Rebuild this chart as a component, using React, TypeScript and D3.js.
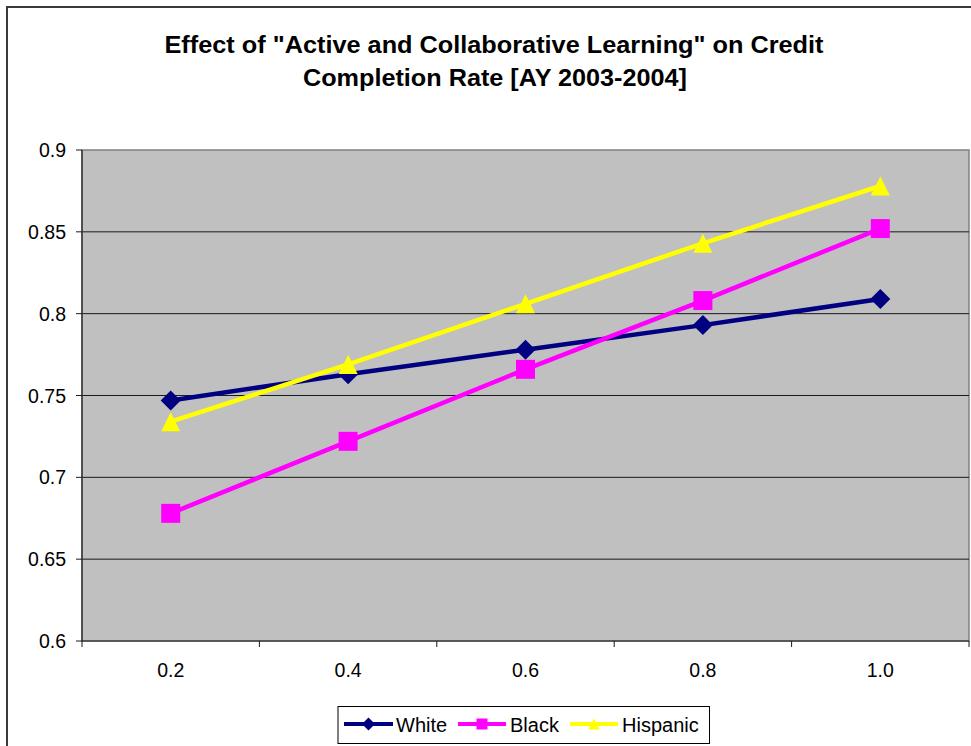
import React from "react";
import * as d3 from "d3";

const categories = ["0.2", "0.4", "0.6", "0.8", "1.0"];
const whiteValues = [0.747, 0.763, 0.778, 0.793, 0.809];
const blackValues = [0.678, 0.722, 0.766, 0.808, 0.852];
const hispanicValues = [0.734, 0.769, 0.806, 0.843, 0.878];
const yTicks = [0.6, 0.65, 0.7, 0.75, 0.8, 0.85, 0.9];
const yTickLabels = ["0.6", "0.65", "0.7", "0.75", "0.8", "0.85", "0.9"];
const seriesNames = ["White", "Black", "Hispanic"];
const titleLines = [
  'Effect of "Active and Collaborative Learning" on Credit',
  "Completion Rate [AY 2003-2004]",
];

const W = 971;
const H = 746;
const plot = { left: 82, right: 969, top: 150, bottom: 641 };
const colors = ["#000080", "#FF00FF", "#FFFF00"];
const shapes = ["diamond", "square", "triangle"];
const FONT = "'Liberation Sans', Arial, sans-serif";

function marker(shape: string, cx: number, cy: number, s: number, color: string, key?: string) {
  if (shape === "diamond") {
    const r = s / 2;
    return (
      <path key={key} d={`M${cx},${cy - r}L${cx + r},${cy}L${cx},${cy + r}L${cx - r},${cy}Z`} fill={color} />
    );
  }
  if (shape === "square") {
    return <rect key={key} x={cx - s / 2} y={cy - s / 2} width={s} height={s} fill={color} />;
  }
  const h = s;
  return (
    <path
      key={key}
      d={`M${cx},${cy - h / 2}L${cx + s / 2},${cy + h / 2}L${cx - s / 2},${cy + h / 2}Z`}
      fill={color}
    />
  );
}

export default function App() {
  const x = d3.scaleBand<string>().domain(categories).range([plot.left, plot.right]).padding(0);
  const y = d3.scaleLinear().domain([0.6, 0.9]).range([plot.bottom, plot.top]);
  const series = [whiteValues, blackValues, hispanicValues];
  const line = d3
    .line<number>()
    .x((_, i) => (x(categories[i]) as number) + x.bandwidth() / 2)
    .y((v) => y(v));

  const boundaries = categories.map((c) => x(c) as number).concat([plot.right]);

  const legendItems = [
    { lx1: 344, lx2: 393, tx: 396 },
    { lx1: 458, lx2: 506, tx: 510 },
    { lx1: 570, lx2: 618, tx: 622 },
  ];
  const legendY = 724;

  return (
    <svg width={W} height={H} style={{ position: "absolute", left: 0, top: 0, background: "#fff" }}>
      <rect x={0} y={0} width={W} height={H} fill="#fff" />
      <rect x={7} y={7} width={W + 20} height={H + 20} fill="none" stroke="#3a3a3a" strokeWidth={2} />

      {/* Title */}
      <text x={494} y={53} textAnchor="middle" fontFamily={FONT} fontWeight="bold" fontSize={23.5}
        textLength={659} lengthAdjust="spacingAndGlyphs">
        {titleLines[0]}
      </text>
      <text x={495} y={86} textAnchor="middle" fontFamily={FONT} fontWeight="bold" fontSize={23.5}
        textLength={384} lengthAdjust="spacingAndGlyphs">
        {titleLines[1]}
      </text>

      {/* Plot area */}
      <rect x={plot.left} y={plot.top} width={plot.right - plot.left} height={plot.bottom - plot.top}
        fill="#C0C0C0" stroke="#808080" strokeWidth={1.5} />

      {/* Gridlines */}
      {yTicks.slice(1, -1).map((t) => (
        <line key={t} x1={plot.left} x2={plot.right} y1={y(t)} y2={y(t)} stroke="#1a1a1a" strokeWidth={1} />
      ))}

      {/* Axes */}
      <line x1={plot.left} x2={plot.left} y1={plot.top} y2={plot.bottom} stroke="#3a3a3a" strokeWidth={1.5} />
      <line x1={plot.left} x2={plot.right} y1={plot.bottom} y2={plot.bottom} stroke="#1a1a1a" strokeWidth={1.2} />
      {yTicks.map((t, i) => (
        <g key={t}>
          <line x1={plot.left - 6} x2={plot.left} y1={y(t)} y2={y(t)} stroke="#1a1a1a" strokeWidth={1} />
          <text x={66} y={y(t) + 7} textAnchor="end" fontFamily={FONT} fontSize={19.5} fill="#000">
            {yTickLabels[i]}
          </text>
        </g>
      ))}
      {boundaries.map((b, i) => (
        <line key={i} x1={b} x2={b} y1={plot.bottom} y2={plot.bottom + 6} stroke="#1a1a1a" strokeWidth={1} />
      ))}
      {categories.map((c) => (
        <text key={c} x={(x(c) as number) + x.bandwidth() / 2} y={677} textAnchor="middle"
          fontFamily={FONT} fontSize={19.5} fill="#000">
          {c}
        </text>
      ))}

      {/* Series */}
      {series.map((vals, si) => (
        <g key={si}>
          <path d={line(vals) as string} fill="none" stroke={colors[si]} strokeWidth={4.5} strokeLinejoin="round" />
          {vals.map((v, i) =>
            marker(shapes[si], (x(categories[i]) as number) + x.bandwidth() / 2, y(v),
              si === 0 ? 20 : 19, colors[si], `${si}-${i}`)
          )}
        </g>
      ))}

      {/* Legend */}
      <rect x={338} y={706.5} width={371.5} height={37} fill="#fff" stroke="#000" strokeWidth={1} />
      {legendItems.map((it, i) => (
        <g key={i}>
          <line x1={it.lx1} x2={it.lx2} y1={legendY} y2={legendY} stroke={colors[i]} strokeWidth={4} />
          {marker(shapes[i], (it.lx1 + it.lx2) / 2, legendY, i === 0 ? 13 : 11, colors[i])}
          <text x={it.tx} y={legendY + 7.5} fontFamily={FONT} fontSize={20} fill="#000">
            {seriesNames[i]}
          </text>
        </g>
      ))}
    </svg>
  );
}
